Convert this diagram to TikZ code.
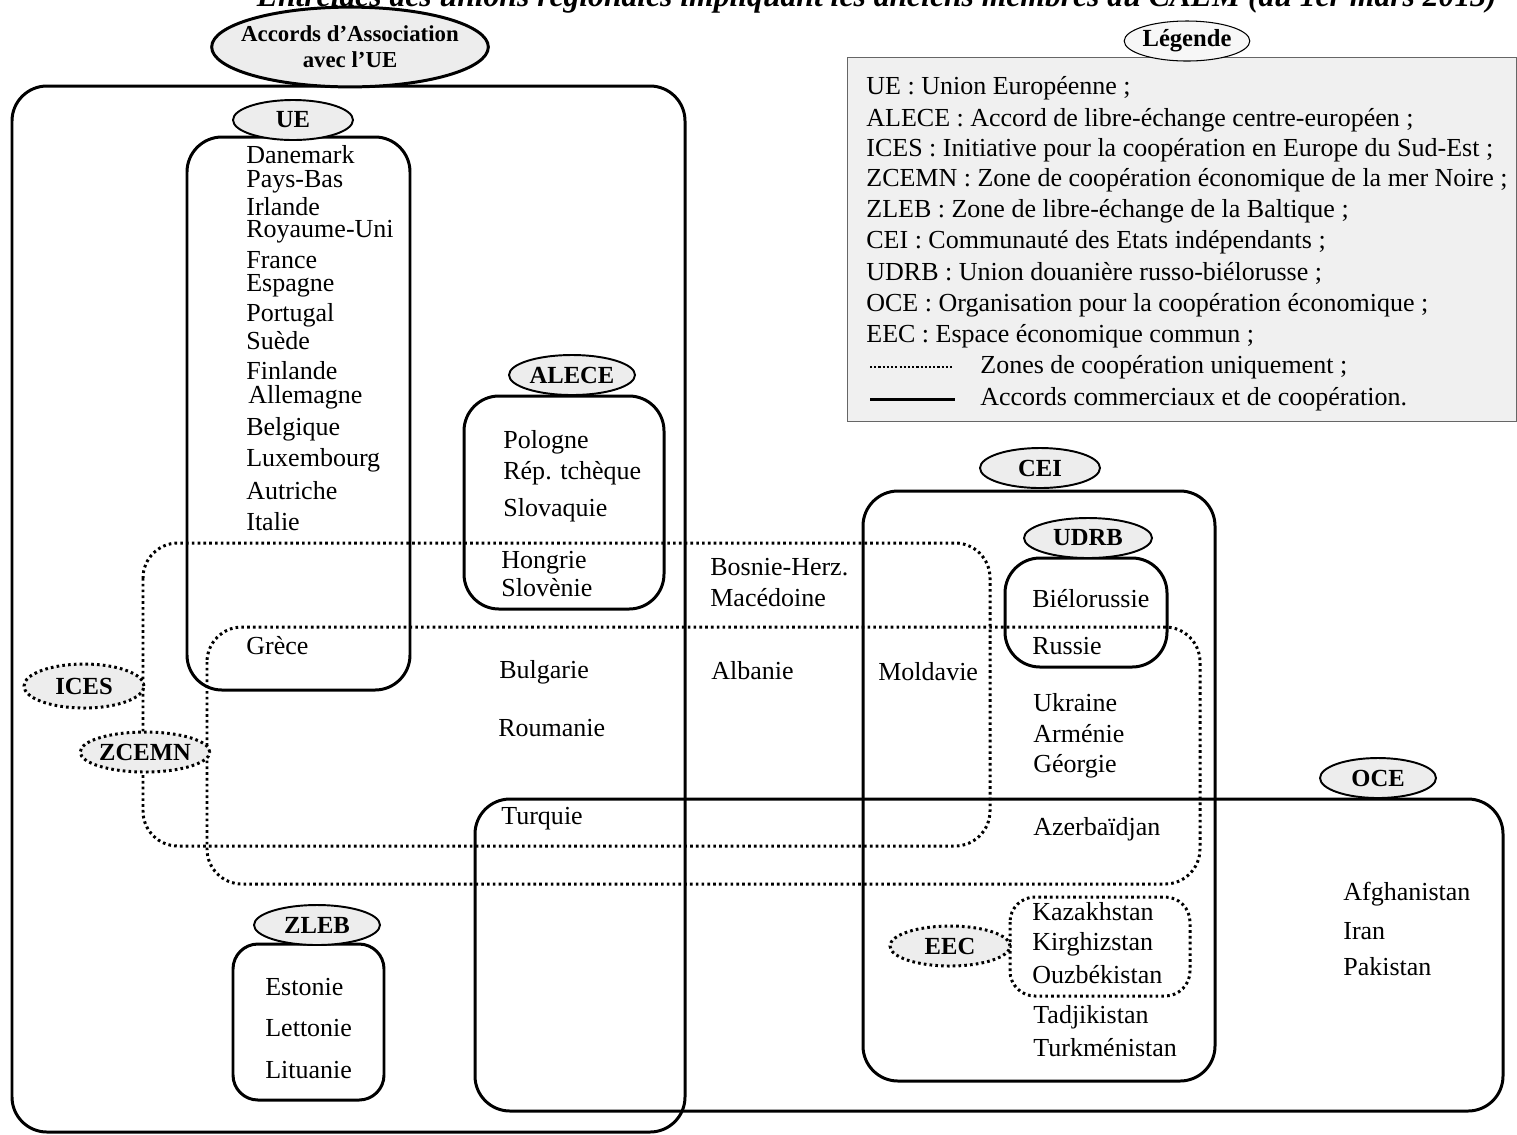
\documentclass[tikz,border=0pt]{standalone}
\usepackage{fontspec}
\setmainfont{Liberation Serif}
\usetikzlibrary{shapes.geometric,positioning}

\begin{document}
\begin{tikzpicture}[x=0.02cm,y=-0.02cm,
  grp/.style={line width=1.7pt,rounded corners=0.7cm},
  zone/.style={line width=1.7pt,dash pattern=on 1.5pt off 1.8pt,rounded corners=0.7cm},
  tag/.style={ellipse,draw,fill=black!7,line width=1.1pt,inner sep=0pt,minimum width=2.4cm,minimum height=0.8cm,font=\fontsize{14}{17}\selectfont\bfseries},
  dtag/.style={tag,line width=1.7pt,dash pattern=on 1.5pt off 1.8pt},
  pays/.style={anchor=west,inner sep=0pt}]
  \fontsize{14.8}{17}\selectfont
  \useasboundingbox (0,0) rectangle (1517,1134);
  \node[font=\fontsize{18}{20}\selectfont\bfseries\itshape,anchor=base east,inner sep=0pt] (titre) at (1497,6) {Entrelacs des unions régionales impliquant les anciens membres du CAEM (au 1er mars 2013)};

  % legende
  \draw[draw=black!60,fill=black!6] (847,57) rectangle (1516,421);
  \node[tag,fill=black!3,line width=0.6pt] (legende) at (1187,41) {Légende};
  \node[pays] (l1) at (866,88) {UE : Union Européenne ;};
  \node[pays] (l2) at (866,120) {ALECE : Accord de libre-échange centre-européen ;};
  \node[pays] (l3) at (866,150) {ICES : Initiative pour la coopération en Europe du Sud-Est ;};
  \node[pays] (l4) at (866,180) {ZCEMN : Zone de coopération économique de la mer Noire ;};
  \node[pays] (l5) at (866,211) {ZLEB : Zone de libre-échange de la Baltique ;};
  \node[pays] (l6) at (866,242) {CEI : Communauté des Etats indépendants ;};
  \node[pays] (l7) at (866,273) {UDRB : Union douanière russo-biélorusse ;};
  \node[pays] (l8) at (866,305) {OCE : Organisation pour la coopération économique ;};
  \node[pays] (l9) at (866,336) {EEC : Espace économique commun ;};
  \node[pays] (l10) at (980,367) {Zones de coopération uniquement ;};
  \node[pays] (l11) at (980,399) {Accords commerciaux et de coopération.};
  \coordinate (d1) at (870,367); \coordinate (d2) at (953,367);
  \coordinate (s1) at (870,399); \coordinate (s2) at (955,399);
  \draw[zone,line width=1.5pt,dash pattern=on 1.2pt off 1.2pt] (d1) -- (d2);
  \draw[grp] (s1) -- (s2);

  % groupes
  \draw[grp] (12,86) rectangle (685,1132);
  \draw[grp] (187,137) rectangle (410,690);
  \draw[grp] (464,396) rectangle (664,609);
  \draw[grp] (863,491) rectangle (1215,1081);
  \draw[grp] (1005,558) rectangle (1167,667);
  \draw[grp] (475,799) rectangle (1503,1111);
  \draw[grp,rounded corners=0.5cm] (233,944) rectangle (384,1100);
  \draw[zone] (143,543) rectangle (990,846);
  \draw[zone] (207,627) rectangle (1200,884);
  \draw[zone,rounded corners=0.5cm] (1010,897) rectangle (1190,996);

  \node[tag,line width=1.7pt,align=center,font=\fontsize{13}{15}\selectfont\bfseries,inner xsep=-0.22cm,inner ysep=0.14cm] (aa) at (350,47) {Accords d'Association\\avec l'UE};
  \node[tag] (ue) at (293,120) {UE};
  \node[tag,minimum width=2.52cm] (alece) at (572,375) {ALECE};
  \node[tag] (cei) at (1040,468) {CEI};
  \node[tag,minimum width=2.56cm] (udrb) at (1088,538) {UDRB};
  \node[tag,minimum width=2.32cm] (oce) at (1378,778) {OCE};
  \node[tag,minimum width=2.52cm] (zleb) at (317,925) {ZLEB};
  \node[dtag,minimum height=0.88cm] (ices) at (84,686) {ICES};
  \node[dtag] (zcemn) at (145,752) {ZCEMN};
  \node[dtag] (eec) at (950,946) {EEC};

  % UE
  \node[pays] (dk) at (246,155) {Danemark};
  \node[pays] (nl) at (246,182) {Pays-Bas};
  \node[pays] (ie) at (246,207) {Irlande};
  \node[pays] (uk) at (246,232) {Royaume-Uni};
  \node[pays] (fr) at (246,260) {France};
  \node[pays] (es) at (246,286) {Espagne};
  \node[pays] (pt) at (246,315) {Portugal};
  \node[pays] (se) at (246,341) {Suède};
  \node[pays] (fi) at (246,371) {Finlande};
  \node[pays] (de) at (248,397) {Allemagne};
  \node[pays] (be) at (246,429) {Belgique};
  \node[pays] (lu) at (246,460) {Luxembourg};
  \node[pays] (at) at (246,491) {Autriche};
  \node[pays] (it) at (246,522) {Italie};
  \node[pays] (gr) at (246,646) {Grèce};
  % ALECE
  \node[pays] (pl) at (503,442) {Pologne};
  \node[pays] (cz) at (503,473) {Rép. tchèque};
  \node[pays] (sk) at (503,510) {Slovaquie};
  \node[pays] (hu) at (501,563) {Hongrie};
  \node[pays] (si) at (501,588) {Slovènie};
  % Balkans, mer Noire
  \node[pays] (ba) at (710,567) {Bosnie-Herz.};
  \node[pays] (mk) at (710,598) {Macédoine};
  \node[pays] (al) at (711,671) {Albanie};
  \node[pays] (bg) at (499,672) {Bulgarie};
  \node[pays] (ro) at (498,728) {Roumanie};
  \node[pays] (tr) at (501,819) {Turquie};
  \node[pays] (md) at (878,672) {Moldavie};
  % CEI
  \node[pays] (by) at (1032,599) {Biélorussie};
  \node[pays] (ru) at (1032,646) {Russie};
  \node[pays] (ua) at (1033,703) {Ukraine};
  \node[pays] (am) at (1033,734) {Arménie};
  \node[pays] (ge) at (1033,766) {Géorgie};
  \node[pays] (az) at (1033,829) {Azerbaïdjan};
  \node[pays] (kz) at (1032,912) {Kazakhstan};
  \node[pays] (kg) at (1032,944) {Kirghizstan};
  \node[pays] (uz) at (1032,975) {Ouzbékistan};
  \node[pays] (tj) at (1033,1017) {Tadjikistan};
  \node[pays] (tm) at (1033,1048) {Turkménistan};
  % OCE
  \node[pays] (af) at (1343,894) {Afghanistan};
  \node[pays] (ir) at (1343,931) {Iran};
  \node[pays] (pk) at (1343,967) {Pakistan};
  % ZLEB
  \node[pays] (ee) at (265,987) {Estonie};
  \node[pays] (lv) at (265,1028) {Lettonie};
  \node[pays] (lt) at (265,1070) {Lituanie};
\end{tikzpicture}
\end{document}
